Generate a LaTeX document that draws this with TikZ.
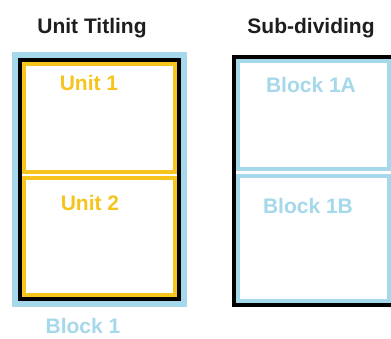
\documentclass[tikz,border=0pt]{standalone}
\usepackage{fontspec}
\setmainfont{Liberation Sans}
\definecolor{ylw}{RGB}{246,196,28}
\definecolor{lblue}{RGB}{164,216,234}
\definecolor{ttl}{RGB}{30,30,30}
\begin{document}
\begin{tikzpicture}[x=1pt,y=-1pt,
  title/.style={font=\fontsize{21}{24}\selectfont\bfseries, text=ttl, anchor=base, inner sep=0pt},
  ylab/.style={font=\fontsize{21}{24}\selectfont\bfseries, text=ylw, anchor=base, inner sep=0pt},
  blab/.style={font=\fontsize{21}{24}\selectfont\bfseries, text=lblue, anchor=base, inner sep=0pt},
  bluebox/.style={draw=lblue, line width=6pt},
  blackbox/.style={draw=black, line width=4pt},
  unitbox/.style={draw=ylw, line width=4pt},
  subbox/.style={draw=lblue, line width=4pt}]
\useasboundingbox (0,0) rectangle (391,338);
\clip (0,0) rectangle (391,338);
\fill[white] (0,0) rectangle (391,338);
% titles
\node[title] (t1) at (92,33) {Unit Titling};
\node[title] (t2) at (311,33) {Sub-dividing};
% left: unit titling
\draw[bluebox] (15,55) rectangle (184,304);
\draw[blackbox] (20,60) rectangle (179,299);
\draw[unitbox] (24,64) rectangle (175,172);
\draw[unitbox] (24,178) rectangle (175,295);
\node[ylab] (u1) at (89,90) {Unit 1};
\node[ylab] (u2) at (90,210) {Unit 2};
\node[blab] (b1) at (83,333) {Block 1};
% right: sub-dividing
\draw[blackbox] (234,57) rectangle (400,305);
\draw[subbox] (238,61) rectangle (389,169);
\draw[subbox] (238,176) rectangle (389,301);
\node[blab] (b1a) at (311,92) {Block 1A};
\node[blab] (b1b) at (308,213) {Block 1B};
\end{tikzpicture}
\end{document}
